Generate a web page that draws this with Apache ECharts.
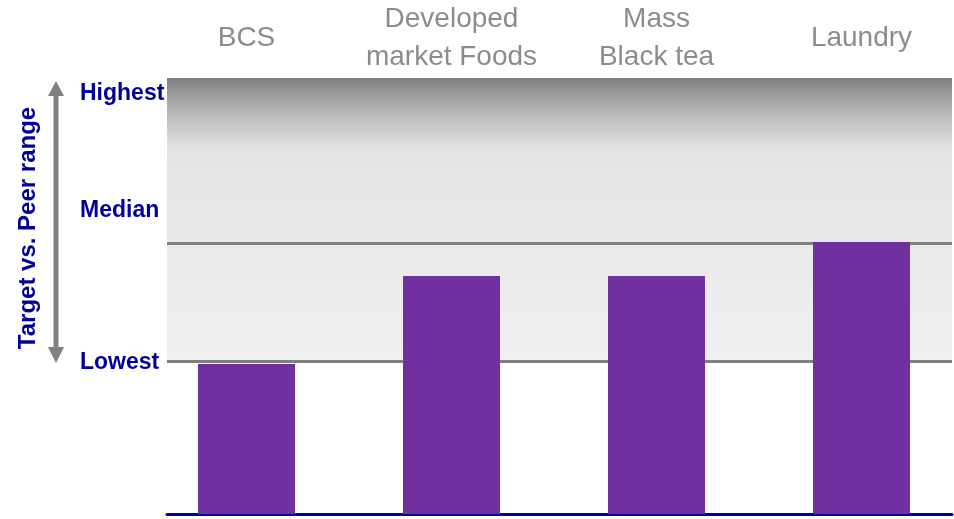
<!DOCTYPE html>
<html>
<head>
<meta charset="utf-8">
<script src="https://cdn.jsdelivr.net/npm/echarts@6/dist/echarts.min.js"></script>
<style>
  html, body { margin: 0; padding: 0; background: #ffffff; }
  #chart { width: 954px; height: 519px; }
</style>
</head>
<body>
<div id="chart"></div>
<script>
// ---- data ----
const categories = ['BCS', 'Developed\nmarket Foods', 'Mass\nBlack tea', 'Laundry'];
const barValues = [34.4, 54.6, 54.6, 62.4];
const tickLabels = ['Lowest', 'Median', 'Highest'];
const tickValues = [34.6, 69.5, 96.3];
const peerLowest = 35;
const peerMedian = 62.2;
const peerHighest = 100;
const axisTitle = 'Target vs. Peer range';

const FONT = '"Liberation Sans", Arial, sans-serif';
const chart = echarts.init(document.getElementById('chart'), null, { renderer: 'canvas' });

const option = {
  animation: false,
  backgroundColor: '#ffffff',
  grid: [
    { left: 167, right: 2, top: 78, bottom: 5, outerBoundsMode: 'none' },
    { left: 144, width: 820, top: 78, bottom: 5, outerBoundsMode: 'none' }
  ],
  xAxis: [
    {
      gridIndex: 0, type: 'category', data: categories,
      axisLine: { show: true, lineStyle: { color: '#000099', width: 3 } },
      axisTick: { show: false }, axisLabel: { show: false }, splitLine: { show: false }
    },
    {
      gridIndex: 1, type: 'category', data: categories, position: 'top',
      axisLine: { show: false }, axisTick: { show: false }, splitLine: { show: false },
      axisLabel: {
        show: true, color: '#8c8c8c', fontSize: 28, lineHeight: 38, fontFamily: FONT,
        margin: 40, verticalAlign: 'middle', align: 'center', interval: 0
      }
    }
  ],
  yAxis: [
    {
      gridIndex: 0, type: 'value', min: 0, max: 100,
      axisLine: { show: false }, axisTick: { show: false }, splitLine: { show: false },
      axisLabel: {
        show: true, customValues: tickValues, align: 'left', margin: 87,
        color: '#000099', fontSize: 23, fontWeight: 'bold', fontFamily: FONT,
        formatter: function (v) {
          for (let i = 0; i < tickValues.length; i++) {
            if (Math.abs(tickValues[i] - v) < 1e-6) return tickLabels[i];
          }
          return '';
        }
      }
    },
    {
      gridIndex: 1, type: 'value', min: 0, max: 100, show: false
    }
  ],
  series: [
    {
      type: 'line', xAxisIndex: 0, yAxisIndex: 0, data: [], z: 1, silent: true,
      markArea: {
        silent: true,
        itemStyle: {
          color: {
            type: 'linear', x: 0, y: 0, x2: 0, y2: 1,
            colorStops: [
              { offset: 0, color: '#7f7f7f' },
              { offset: 0.1, color: '#b0b0b0' },
              { offset: 0.25, color: '#e4e4e4' },
              { offset: 1, color: '#f0f0f0' }
            ]
          }
        },
        data: [[{ yAxis: peerLowest }, { yAxis: peerHighest }]]
      },
      markLine: {
        silent: true, symbol: ['none', 'none'],
        label: { show: false },
        lineStyle: { color: '#808080', width: 3, type: 'solid' },
        data: [{ yAxis: peerMedian }, { yAxis: peerLowest }]
      }
    },
    {
      type: 'bar', xAxisIndex: 1, yAxisIndex: 1, data: barValues, z: 5,
      barWidth: 97, itemStyle: { color: '#7030A0' }
    }
  ],
  graphic: [
    {
      type: 'line', silent: true,
      shape: { x1: 56, y1: 92, x2: 56, y2: 350 },
      style: { stroke: '#808080', lineWidth: 5 }
    },
    {
      type: 'polygon', silent: true,
      shape: { points: [[56, 81], [48, 96], [64, 96]] },
      style: { fill: '#808080' }
    },
    {
      type: 'polygon', silent: true,
      shape: { points: [[56, 363], [48, 347], [64, 347]] },
      style: { fill: '#808080' }
    },
    {
      type: 'text', silent: true,
      x: 28, y: 228, rotation: Math.PI / 2,
      style: {
        text: axisTitle, fill: '#000099', font: 'bold 24px ' + FONT,
        align: 'center', verticalAlign: 'middle'
      }
    }
  ]
};
chart.setOption(option);
</script>
</body>
</html>
